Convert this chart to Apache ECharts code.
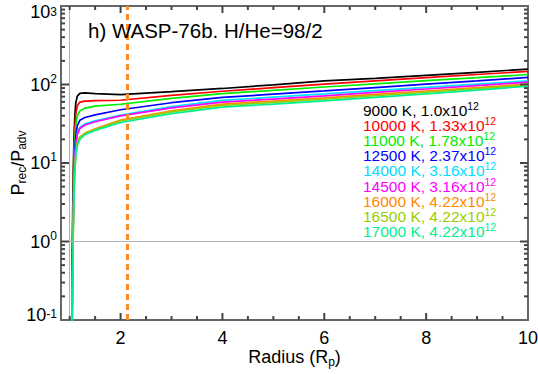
<!DOCTYPE html>
<html>
<head>
<meta charset="utf-8">
<script src="https://cdn.jsdelivr.net/npm/echarts@6/dist/echarts.min.js"></script>
<style>
html, body { margin: 0; padding: 0; background: #fff; }
#chart { width: 538px; height: 374px; }
</style>
</head>
<body>
<div id="chart"></div>
<script>
// radius in planet radii
var radius = [1.04, 1.05, 1.06, 1.07, 1.08, 1.09, 1.10, 1.12, 1.15, 1.2, 1.3, 1.5, 2, 3, 4, 5, 6, 7, 8, 9, 10]

// P_rec / P_adv for each temperature
var t9000 = [0.08, 0.5, 2.5, 7, 15, 26, 38, 58, 71, 77, 78, 76.5, 74.5, 81, 89, 99, 111, 120, 131, 143, 157]
var t10000 = [0.05, 0.3, 1.5, 4.5, 10, 18, 27, 42, 54, 59.5, 61.5, 62.2, 63, 72.5, 82, 91, 101, 111, 122, 134, 147]
var t11000 = [0.04, 0.2, 1, 3, 7, 13, 19, 30, 40, 46, 50, 53, 56, 66.6, 76.4, 84.4, 93, 102, 112, 122, 134]
var t12500 = [0.03, 0.15, 0.7, 2.2, 5, 9, 14, 22, 30, 35, 38, 41, 47.7, 58.6, 68.4, 75.3, 82.8, 91.4, 101, 111, 123]
var t14000 = [0.03, 0.12, 0.6, 1.8, 4, 7, 11, 17, 24, 28.5, 31.5, 34.5, 40.8, 52.3, 62.7, 69, 75.8, 83.4, 91.7, 101, 111]
var t14500 = [0.03, 0.12, 0.55, 1.7, 3.8, 6.8, 10.5, 16.5, 23, 27.5, 30.5, 33.5, 39.8, 50.3, 59.7, 65.3, 71.6, 79.2, 87.6, 96.8, 107]
var t16000 = [0.02, 0.1, 0.45, 1.4, 3.2, 5.5, 8.5, 13, 18, 21.5, 24, 27.2, 35.2, 46.3, 56.2, 61.6, 67.5, 74.7, 82.6, 91.4, 101]
var t16500 = [0.02, 0.09, 0.42, 1.3, 3, 5.2, 8, 12.5, 17.5, 21, 23.5, 26.6, 34.3, 44.8, 54, 59.2, 64.9, 71.9, 79.7, 88.4, 98]
var t17000 = [0.02, 0.08, 0.4, 1.2, 2.8, 5, 7.5, 12, 16.5, 20, 23, 26, 32.8, 42.6, 51.4, 56.3, 61.9, 68.6, 76.1, 84.9, 95]

var temps = ['9000', '10000', '11000', '12500', '14000', '14500', '16000', '16500', '17000']
var fluxes = ['1.0', '1.33', '1.78', '2.37', '3.16', '3.16', '4.22', '4.22', '4.22']
var curves = [t9000, t10000, t11000, t12500, t14000, t14500, t16000, t16500, t17000]

var xLabels = [2, 4, 6, 8, 10]
var xTicks = [1, 1.5, 2, 2.5, 3, 3.5, 4, 4.5, 5, 5.5, 6, 6.5, 7, 7.5, 8, 8.5, 9, 9.5]
var yMajor = [1, 10, 100]
var yTicks = []
;[0.1, 1, 10, 100].forEach(function(d) {
  for (var k = 1; k <= 9; k++) {
    if (k === 1 && d === 0.1) continue
    yTicks.push(+(k * d).toPrecision(3))
  }
})
var sonicRadius = 2.13 // dashed line
var title = 'h) WASP-76b. H/He=98/2'

var X_MIN = 0.83, X_MAX = 10, Y_MIN = 0.1, Y_MAX = 1000
var colors = ['#000000', '#ff0000', '#00ee00', '#0000ff', '#00e0ff', '#ff00ff', '#ff8800', '#99cc00', '#00f090']
var FONT = '"Liberation Sans", Arial, sans-serif'
var axisColor = '#666'
var tickColor = '#444'

var chart = echarts.init(document.getElementById('chart'), null, { renderer: 'svg' })

var series = curves.map(function(vals, i) {
  return {
    type: 'line',
    name: temps[i],
    data: radius.map(function(r, j) { return [r, vals[j]] }),
    showSymbol: false,
    clip: true,
    lineStyle: { color: colors[i], width: 1.7 },
    z: 3
  }
})

// reference lines: surface and P=1 (gray)
series[0].markLine = {
  silent: true,
  symbol: ['none', 'none'],
  label: { show: false },
  animation: false,
  lineStyle: { color: '#b0b0b0', width: 1, type: 'solid' },
  data: [{ yAxis: 1 }, { xAxis: 1 }]
}
// dashed orange line on top
series.push({
  type: 'line',
  data: [],
  z: 5,
  markLine: {
    silent: true,
    symbol: ['none', 'none'],
    label: { show: false },
    animation: false,
    lineStyle: { color: '#ff8c1a', width: 3, type: [6, 4] },
    data: [{ xAxis: sonicRadius }]
  }
})

// end labels are pulled inside the box like the original
function yLabelFmt(v) {
  var e = Math.round(Math.log(v) / Math.LN10)
  if (v >= Y_MAX) return '{bt|10}{et|' + e + '}'
  if (v <= Y_MIN) return '{bb|10}{eb|' + e + '}'
  return '{b|10}{e|' + e + '}'
}

chart.setOption({
  animation: false,
  backgroundColor: '#fff',
  grid: {
    left: 61, right: 10, top: 6, bottom: 54,
    outerBoundsMode: 'none',
    containLabel: false,
    show: true, borderColor: axisColor, borderWidth: 2, backgroundColor: 'transparent'
  },
  xAxis: {
    type: 'value',
    min: X_MIN,
    max: X_MAX,
    splitLine: { show: false },
    axisLine: { show: true, lineStyle: { color: axisColor, width: 2 } },
    axisTick: { show: false },
    axisLabel: {
      customValues: xLabels,
      margin: 9,
      color: '#000',
      fontSize: 18,
      fontFamily: FONT
    },
    name: '{n|Radius (R}{s|p}{n|)}',
    nameLocation: 'middle',
    nameGap: 26,
    nameMoveOverlap: false,
    nameTextStyle: {
      color: '#000',
      rich: {
        n: { fontSize: 18, fontFamily: FONT, lineHeight: 22 },
        s: { fontSize: 12, fontFamily: FONT, lineHeight: 13, verticalAlign: 'bottom' }
      }
    }
  },
  yAxis: {
    type: 'log',
    logBase: 10,
    min: Y_MIN,
    max: Y_MAX,
    splitLine: { show: false },
    axisLine: { show: true, lineStyle: { color: axisColor, width: 2 } },
    axisTick: { show: false },
    axisLabel: {
      margin: 4,
      color: '#000',
      formatter: yLabelFmt,
      rich: {
        b: { fontSize: 18, fontFamily: FONT, lineHeight: 24 },
        e: { fontSize: 12, fontFamily: FONT, lineHeight: 12, verticalAlign: 'top' },
        bt: { fontSize: 18, fontFamily: FONT, lineHeight: 24, padding: [12, 0, 0, 0] },
        et: { fontSize: 12, fontFamily: FONT, lineHeight: 12, verticalAlign: 'top', padding: [12, 0, 0, 0] },
        bb: { fontSize: 18, fontFamily: FONT, lineHeight: 24, padding: [0, 0, 10, 0] },
        eb: { fontSize: 12, fontFamily: FONT, lineHeight: 12, verticalAlign: 'top' }
      }
    },
    name: '{n|P}{s|rec}{n|/P}{s|adv}',
    nameLocation: 'middle',
    nameRotate: 90,
    nameGap: 33,
    nameMoveOverlap: false,
    nameTextStyle: {
      color: '#000',
      rich: {
        n: { fontSize: 18, fontFamily: FONT, lineHeight: 20 },
        s: { fontSize: 12, fontFamily: FONT, lineHeight: 12, verticalAlign: 'bottom' }
      }
    }
  },
  series: series
})

// inward ticks on all four sides, placed through the chart's own scales
var g = []
function px(x, y) { return chart.convertToPixel({ gridIndex: 0 }, [x, y]) }
function ok(n) { return typeof n === 'number' && isFinite(n) }
function bar(x, y, w, h) {
  g.push({
    type: 'rect', silent: true, z: 100,
    shape: { x: x, y: y, width: w, height: h },
    style: { fill: tickColor }
  })
}
var yBottom = px(X_MIN, Y_MIN)[1]
if (!ok(yBottom)) yBottom = chart.convertToPixel({ yAxisIndex: 0 }, Y_MIN)
var yTop = px(X_MIN, Y_MAX)[1]
if (!ok(yTop)) yTop = chart.convertToPixel({ yAxisIndex: 0 }, Y_MAX)
xTicks.forEach(function(v) {
  var len = xLabels.indexOf(v) >= 0 ? 7 : 4
  var xp = chart.convertToPixel({ xAxisIndex: 0 }, v)
  if (!ok(xp)) xp = px(v, 1)[0]
  bar(xp - 1, yBottom - len, 2, len)
  bar(xp - 1, yTop, 2, len)
})
yTicks.forEach(function(v) {
  var len = yMajor.indexOf(v) >= 0 ? 8 : 4
  var l = px(X_MIN, v), r = px(X_MAX, v)
  bar(l[0], l[1] - 1, len, 2)
  bar(r[0] - len, r[1] - 1, len, 2)
})
g.push({
  type: 'text', x: 88, y: 30, z: 100,
  style: { text: title, fill: '#000', fontSize: 20.5, fontFamily: FONT, verticalAlign: 'middle', align: 'left' }
})
temps.forEach(function(t, i) {
  g.push({
    type: 'text', x: 363, y: 110 + i * 15.2, z: 100,
    style: {
      text: '{n|' + t + ' K, ' + fluxes[i] + 'x10}{e|12}',
      fill: colors[i],
      verticalAlign: 'middle',
      align: 'left',
      rich: {
        n: { fontSize: 15.5, fontFamily: FONT, lineHeight: 20 },
        e: { fontSize: 10.5, fontFamily: FONT, lineHeight: 10, verticalAlign: 'top' }
      }
    }
  })
})
chart.setOption({ graphic: g })
</script>
</body>
</html>
